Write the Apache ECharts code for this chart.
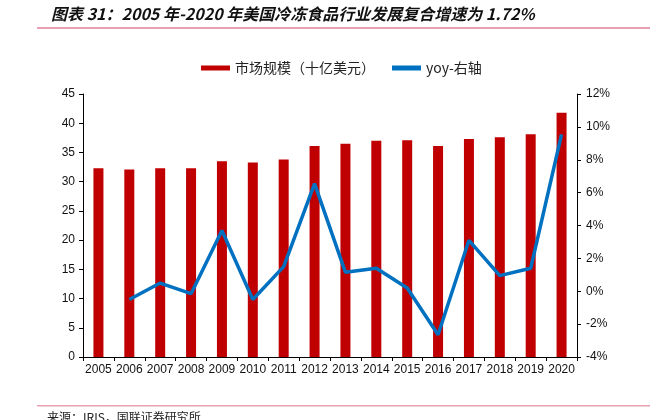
<!DOCTYPE html>
<html>
<head>
<meta charset="utf-8">
<script src="https://cdn.jsdelivr.net/npm/echarts@6/dist/echarts.min.js"></script>
<style>
html,body{margin:0;padding:0;background:#fff;}
#chart{width:663px;height:420px;}
</style>
</head>
<body>
<div id="chart"></div>
<script>
var categories = ['2005','2006','2007','2008','2009','2010','2011','2012','2013','2014','2015','2016','2017','2018','2019','2020'];
var marketSize = [32.3, 32.1, 32.3, 32.3, 33.5, 33.3, 33.8, 36.1, 36.5, 37.0, 37.1, 36.1, 37.3, 37.6, 38.1, 41.8];
var yoy = [null, -0.5, 0.5, -0.15, 3.7, -0.5, 1.5, 6.55, 1.15, 1.4, 0.2, -2.65, 3.1, 0.95, 1.4, 9.55];
var leftTicks = {min: 0, max: 45, interval: 5};
var rightTicks = {min: -4, max: 12, interval: 2};
var titleText = '图表 31：2005 年-2020 年美国冷冻食品行业发展复合增速为 1.72%';
var sourceText = '来源：IRIS，国联证券研究所';
var seriesNames = ['市场规模（十亿美元）', 'yoy-右轴'];

var chart = echarts.init(document.getElementById('chart'));
var axisFont = 'Liberation Sans, Arial, sans-serif';
chart.setOption({
  animation: false,
  backgroundColor: '#fff',
  title: {
    text: titleText,
    left: 46,
    top: 1,
    textStyle: {
      fontSize: 16,
      fontStyle: 'italic',
      fontWeight: 'bold',
      color: '#111',
      fontFamily: 'Noto Sans CJK SC, sans-serif'
    }
  },
  graphic: [
    {type: 'rect', shape: {x: 37, y: 27, width: 613, height: 2}, style: {fill: '#e8a0b2'}},
    {type: 'rect', shape: {x: 37, y: 405, width: 613, height: 1.5}, style: {fill: '#e8a0b2'}},
    {type: 'text', left: 47, top: 411, style: {text: sourceText, fontSize: 12, fill: '#222', fontFamily: 'Noto Sans CJK SC, sans-serif'}}
  ],
  legend: {
    left: 196,
    top: 56,
    itemGap: 17,
    itemWidth: 29,
    itemHeight: 5,
    textStyle: {fontSize: 14, color: '#222', fontFamily: 'Noto Sans CJK SC, sans-serif'},
    data: [
      {name: seriesNames[0], icon: 'rect'},
      {name: seriesNames[1], icon: 'rect'}
    ]
  },
  grid: {left: 83, right: 86, top: 94, bottom: 63, containLabel: false},
  xAxis: {
    type: 'category',
    data: categories,
    axisLine: {lineStyle: {color: '#000', width: 1}},
    axisTick: {show: true, length: 4, alignWithLabel: false, lineStyle: {color: '#000'}},
    axisLabel: {interval: 0, fontSize: 12, color: '#111', margin: 7, fontFamily: axisFont}
  },
  yAxis: [
    {
      type: 'value',
      min: leftTicks.min, max: leftTicks.max, interval: leftTicks.interval,
      splitLine: {show: false},
      axisLine: {show: true, lineStyle: {color: '#000'}},
      axisTick: {show: true, length: 4, lineStyle: {color: '#000'}},
      axisLabel: {fontSize: 12, color: '#111', margin: 8, fontFamily: axisFont}
    },
    {
      type: 'value',
      min: rightTicks.min, max: rightTicks.max, interval: rightTicks.interval,
      position: 'right',
      splitLine: {show: false},
      axisLine: {show: true, lineStyle: {color: '#000'}},
      axisTick: {show: true, length: 4, lineStyle: {color: '#000'}},
      axisLabel: {fontSize: 12, color: '#111', margin: 9, formatter: '{value}%', fontFamily: axisFont}
    }
  ],
  series: [
    {
      name: seriesNames[0],
      type: 'bar',
      data: marketSize,
      barWidth: 10,
      itemStyle: {color: '#C00000'}
    },
    {
      name: seriesNames[1],
      type: 'line',
      yAxisIndex: 1,
      data: yoy,
      showSymbol: false,
      symbol: 'none',
      connectNulls: false,
      lineStyle: {color: '#0070C0', width: 3.5},
      itemStyle: {color: '#0070C0'}
    }
  ]
});
</script>
</body>
</html>
